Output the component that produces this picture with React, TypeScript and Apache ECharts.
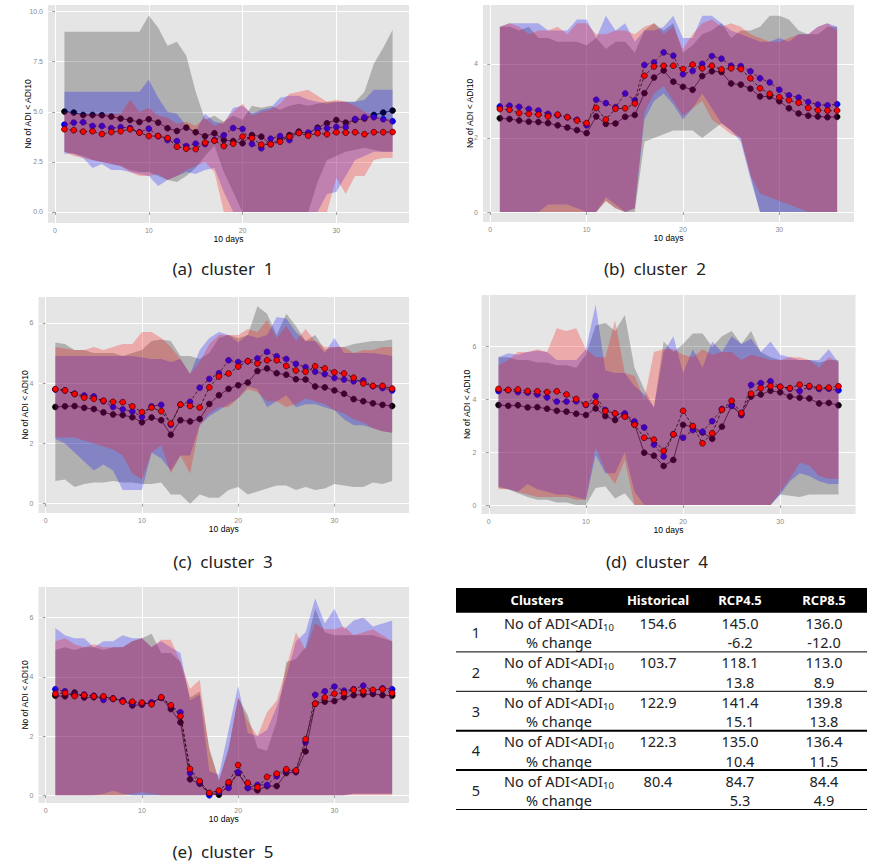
import React, { useEffect, useRef } from "react";
import * as echarts from "echarts";

// ---------- data ----------
const days = [1,2,3,4,5,6,7,8,9,10,11,12,13,14,15,16,17,18,19,20,21,22,23,24,25,26,27,28,29,30,31,32,33,34,35,36];

// cluster 1
const c1Hist = [5.01,4.96,4.84,4.84,4.83,4.76,4.66,4.59,4.49,4.63,4.46,4.18,4.04,4.21,3.98,3.78,3.93,3.59,3.54,3.43,3.84,3.76,3.39,3.63,3.84,4.01,3.93,4.21,4.43,4.59,4.46,4.59,4.66,4.84,4.96,5.06];
const c1R45 = [4.36,4.46,4.48,4.29,4.29,4.18,4.23,4.19,3.98,4.16,3.79,3.59,3.54,3.29,3.41,3.39,3.59,3.83,4.19,4.14,3.39,3.18,3.66,3.79,3.59,3.96,3.96,4.14,4.18,4.24,4.23,4.64,4.73,4.73,4.63,4.53];
const c1R85 = [4.13,4.08,4.01,4.03,3.89,3.99,4.03,4.13,3.96,3.79,3.79,3.69,3.26,3.16,3.14,3.46,3.56,3.29,3.41,3.76,3.68,3.36,3.38,3.51,3.76,3.94,3.81,3.93,3.88,3.98,3.96,3.98,3.88,3.98,3.98,3.99];
const c1HistHi = [9.0,9.0,9.0,9.0,9.0,9.0,9.0,9.0,9.0,9.8,9.2,8.3,8.5,7.8,6.0,4.6,4.8,4.5,4.8,4.6,5.3,5.2,5.3,5.1,5.3,5.4,5.3,5.4,5.5,5.5,5.5,5.5,6.0,7.4,8.2,9.1];
const c1HistLo = [3.0,2.9,2.8,2.6,2.5,2.4,2.3,2.1,2.0,2.0,1.8,1.6,1.5,1.8,2.2,2.8,3.3,2.0,1.0,0,0,0,0,0,0,0,0,1.5,2.6,2.8,3.0,3.1,3.2,3.1,3.0,3.0];
const c1R45Hi = [6.0,6.0,6.0,6.0,6.0,6.0,6.0,6.0,6.0,6.6,5.7,5.0,4.9,4.3,4.0,4.9,4.5,4.4,5.2,5.3,4.9,5.1,5.2,5.7,5.8,5.8,5.6,5.5,5.4,5.5,5.5,5.5,5.6,6.1,6.1,6.1];
const c1R45Lo = [2.9,2.9,2.7,2.2,2.4,2.1,2.1,2.0,1.9,1.8,1.3,1.6,1.8,2.0,1.9,2.1,2.2,1.0,0,0,0,0,0,0,0,0,0,0,0.9,1.0,1.8,2.6,2.8,3.0,3.0,3.0];
const c1R85Hi = [5.0,4.9,4.9,4.9,4.9,4.9,4.9,5.6,5.0,5.2,4.8,4.7,4.4,4.5,4.3,4.7,4.3,4.5,5.0,5.4,4.8,5.0,5.1,5.4,5.9,6.0,6.1,5.8,5.5,5.6,5.5,5.3,5.0,4.8,4.7,4.6];
const c1R85Lo = [3.0,2.8,2.7,2.6,2.5,2.4,2.3,2.0,1.8,1.8,1.9,1.6,1.8,2.1,2.3,2.5,2.0,0,0,0,0,0,0,0,0,0,0,0,0,1.7,0.9,1.8,1.8,2.6,2.7,2.7];

// cluster 2
const c2Hist = [2.53,2.51,2.47,2.44,2.43,2.40,2.34,2.28,2.21,2.13,2.58,2.38,2.39,2.57,2.62,3.21,3.63,3.82,3.52,3.38,3.30,3.67,3.80,3.78,3.47,3.44,3.33,3.12,3.12,2.99,2.80,2.66,2.60,2.58,2.56,2.57];
const c2R45 = [2.85,2.87,2.84,2.78,2.74,2.65,2.61,2.56,2.49,2.34,3.03,2.94,2.83,3.20,3.02,3.97,4.04,4.31,4.22,3.72,3.81,4.00,4.21,4.14,3.95,3.94,3.80,3.61,3.50,3.30,3.15,3.09,2.97,2.90,2.88,2.91];
const c2R85 = [2.78,2.76,2.67,2.65,2.63,2.58,2.63,2.56,2.47,2.40,2.81,2.50,2.79,2.80,2.93,3.68,3.93,3.95,3.95,3.86,3.98,3.88,3.95,3.85,3.88,3.86,3.61,3.34,3.19,3.10,3.02,2.95,2.81,2.75,2.74,2.74];
const c2HistHi = [5.0,5.0,4.9,5.0,4.7,4.7,4.6,4.6,4.6,4.5,4.7,4.4,4.6,4.6,4.3,4.9,5.1,4.9,5.1,4.3,4.5,4.8,4.9,5.1,4.7,4.9,4.9,5.0,5.3,5.3,5.2,4.9,4.8,4.8,5.0,5.0];
const c2HistLo = [0,0,0,0,0,0,0,0,0,0,0,0.3,0.1,0,0,1.9,2.0,2.1,2.2,2.2,2.2,2.0,2.2,2.4,2.2,2.0,1.0,0,0,0,0,0,0,0,0,0];
const c2R45Hi = [5.0,5.1,5.1,5.1,5.1,4.9,4.9,4.9,5.2,5.2,4.7,5.3,4.9,5.1,4.6,4.9,4.9,5.0,5.3,4.7,4.7,5.3,5.3,5.1,4.9,4.8,4.7,4.6,4.6,4.7,4.6,4.8,4.8,5.0,5.1,5.0];
const c2R45Lo = [0,0,0,0,0,0.2,0.2,0.2,0.1,0,0,0.4,0.2,0,0.1,2.5,3.0,3.2,2.9,2.5,2.8,3.2,2.8,2.4,2.2,1.9,0.9,0,0,0,0,0,0,0,0,0];
const c2R85Hi = [5.0,5.1,5.0,4.8,4.9,4.9,5.0,4.8,5.1,5.1,4.8,4.8,4.9,4.9,4.8,5.0,5.1,4.8,5.0,4.4,4.8,5.1,5.2,5.0,5.1,5.0,4.8,4.7,4.6,4.6,4.7,4.8,4.8,5.0,5.1,4.9];
const c2R85Lo = [0,0,0,0,0,0,0,0,0,0,0,0.3,0.1,0,0.1,2.7,3.2,3.4,3.0,2.6,2.8,3.0,2.5,2.3,2.1,2.0,1.0,0.5,0.4,0.3,0.2,0.1,0,0,0,0];

// cluster 3
const c3Hist = [3.21,3.23,3.24,3.18,3.14,3.03,2.96,2.94,2.87,2.70,2.86,2.77,2.29,2.77,2.73,2.81,3.31,3.60,3.81,3.93,4.02,4.40,4.49,4.33,4.28,4.13,4.12,3.89,3.86,3.76,3.65,3.47,3.40,3.33,3.28,3.24];
const c3R45 = [3.79,3.76,3.65,3.59,3.56,3.40,3.21,3.13,3.06,2.88,3.23,3.28,2.62,3.29,3.38,3.85,4.14,4.33,4.76,4.70,4.73,4.82,5.04,4.89,4.80,4.64,4.53,4.38,4.30,4.17,4.12,4.06,4.09,3.90,3.84,3.76];
const c3R85 = [3.80,3.76,3.64,3.52,3.48,3.42,3.38,3.37,3.23,3.04,3.19,3.07,2.66,3.29,3.24,3.19,3.86,4.22,4.32,4.55,4.73,4.65,4.76,4.76,4.57,4.42,4.38,4.56,4.49,4.36,4.32,4.18,3.99,3.91,3.91,3.82];
const c3HistHi = [5.35,5.3,5.1,5.1,5.0,5.0,5.0,4.9,5.0,5.1,5.4,5.45,5.4,4.9,4.9,4.8,5.0,5.5,5.6,5.5,5.6,6.55,6.3,5.6,6.3,5.9,5.4,5.6,5.1,5.2,5.2,5.3,5.35,5.4,5.4,5.45];
const c3HistLo = [0.75,0.8,0.55,0.65,0.7,0.7,0.75,0.7,0.7,0.65,0.65,0.7,0.3,0.3,0.0,0.3,0.2,0.2,0.45,0.55,0.3,0.4,0.5,0.6,0.6,0.45,0.55,0.45,0.5,0.65,0.6,0.55,0.55,0.7,0.65,0.75];
const c3R45Hi = [4.9,4.9,4.9,4.9,4.9,4.9,4.9,4.9,4.9,4.85,4.8,4.8,4.7,4.8,4.3,5.1,5.5,5.7,5.6,5.35,5.6,5.5,5.6,6.2,6.15,5.7,5.4,5.4,5.0,5.5,5.0,5.0,5.0,5.0,4.95,4.9];
const c3R45Lo = [2.15,2.0,1.7,1.4,1.1,1.3,1.1,0.45,0.45,0.45,1.7,1.5,1.1,1.6,1.6,2.6,2.9,3.1,3.3,3.5,3.9,3.8,3.2,3.4,3.6,3.2,3.3,3.3,3.2,3.1,2.8,2.6,2.6,2.5,2.4,2.35];
const c3R85Hi = [5.2,5.15,5.1,5.1,5.2,5.1,5.2,5.3,5.3,5.7,5.7,5.5,5.2,4.8,4.3,4.7,5.3,5.6,5.6,5.6,5.8,5.7,6.1,5.5,5.9,5.4,5.8,5.4,5.2,5.2,5.2,5.0,5.1,5.1,5.2,5.2];
const c3R85Lo = [2.2,2.2,2.2,2.1,2.0,1.9,1.8,1.6,1.0,0.8,1.7,1.95,1.0,1.6,1.0,2.6,3.0,3.2,3.2,3.5,3.8,3.7,3.4,3.4,3.2,3.3,3.5,3.4,3.3,3.1,3.0,2.8,2.7,2.5,2.4,2.35];

// cluster 4
const c4Hist = [3.79,3.76,3.78,3.70,3.71,3.65,3.57,3.54,3.46,3.41,3.66,3.37,3.22,3.45,3.07,1.98,1.87,1.48,1.71,3.04,2.97,2.75,2.51,2.97,3.76,3.41,4.11,4.19,4.33,4.27,4.11,4.07,4.04,3.85,3.87,3.78];
const c4R45 = [4.32,4.36,4.28,4.26,4.19,4.08,3.92,3.92,3.93,3.79,4.13,3.60,3.46,3.47,3.17,2.94,2.29,1.84,2.68,2.55,2.84,2.78,3.18,3.64,3.76,3.45,4.55,4.62,4.69,4.48,4.41,4.32,4.48,4.40,4.41,4.35];
const c4R85 = [4.40,4.36,4.38,4.32,4.31,4.28,4.31,4.19,4.02,3.81,3.89,3.56,3.47,3.35,3.04,2.55,2.48,2.05,2.68,3.57,2.99,2.34,2.72,3.61,3.95,3.49,4.22,4.43,4.51,4.48,4.43,4.56,4.51,4.45,4.45,4.50];
const c4HistHi = [5.6,5.6,5.5,5.5,5.4,5.4,5.3,5.3,5.2,5.7,6.8,6.9,6.6,7.2,5.2,4.4,3.7,6.2,5.8,6.1,6.5,6.5,6.0,6.4,6.6,6.1,6.6,5.8,5.6,5.5,5.5,5.5,5.5,5.4,5.5,5.5];
const c4HistLo = [0.65,0.6,0.45,0.3,0.2,0.2,0.1,0.1,0,0,0.65,0.7,0.25,0.45,0,0,0,0,0,0,0,0,0,0,0,0,0,0,0,0.4,0.35,0.3,0.4,0.4,0.4,0.4];
const c4R45Hi = [5.6,5.75,5.7,5.8,5.85,5.8,5.5,5.5,5.5,5.9,7.6,5.1,5.0,5.0,4.5,4.2,3.7,5.8,6.4,5.0,5.9,5.2,6.2,5.8,6.4,6.1,6.3,5.8,6.2,5.7,5.6,5.5,5.5,5.5,5.9,5.4];
const c4R45Lo = [0.7,0.6,0.5,0.8,0.6,0.5,0.4,0.4,0.3,0.2,1.9,1.2,1.2,2.0,0.5,0,0,0,0,0,0,0,0,0,0,0,0,0,0,0.4,0.9,1.2,1.1,0.9,0.8,0.8];
const c4R85Hi = [5.3,5.5,5.8,5.8,5.9,5.8,6.7,6.6,6.7,5.9,5.6,5.6,7.0,5.0,4.9,4.0,5.8,5.9,5.9,5.7,5.6,5.9,5.7,5.8,5.8,5.5,5.7,5.6,5.5,5.5,5.6,5.6,5.5,5.2,5.6,5.4];
const c4R85Lo = [0.6,0.6,0.5,0.4,0.3,0.3,0.3,0.3,0.2,0.2,2.2,1.3,0.8,1.7,0,0,0,0,0,0,0,0,0,0,0,0,0,0,0,0.5,1.0,1.6,1.5,1.1,1.0,1.0];

// cluster 5
const c5Hist = [3.36,3.34,3.47,3.30,3.31,3.31,3.27,3.20,3.03,3.06,3.13,3.29,2.91,2.46,0.54,0.39,0.06,0.02,0.36,0.75,0.25,0.17,0.31,0.31,0.75,0.78,1.48,3.09,3.16,3.18,3.31,3.38,3.40,3.42,3.38,3.36];
const c5R45 = [3.58,3.51,3.38,3.40,3.36,3.22,3.25,3.20,3.11,3.11,3.13,3.29,3.02,2.80,0.75,0.44,0.0,0.12,0.25,0.78,0.25,0.35,0.35,0.64,0.84,0.82,1.79,3.39,3.51,3.67,3.53,3.58,3.70,3.53,3.61,3.58];
const c5R85 = [3.43,3.45,3.35,3.38,3.34,3.34,3.26,3.16,3.16,3.13,3.07,3.31,3.04,2.67,0.89,0.48,0.08,0.16,0.44,1.02,0.42,0.27,0.62,0.73,0.88,0.84,1.89,3.09,3.30,3.43,3.45,3.56,3.51,3.56,3.58,3.45];
const c5HistHi = [4.9,5.0,4.9,5.0,5.0,4.9,5.0,5.0,5.2,5.3,5.45,4.8,4.8,4.5,3.3,3.5,1.6,0.5,1.6,3.3,2.7,1.6,1.5,2.5,4.5,4.6,5.0,6.3,5.5,5.4,5.4,5.4,5.4,5.4,5.3,5.2];
const c5HistLo = [0,0,0,0,0,0,0,0,0,0,0,0,0,0,0,0,0,0,0,0,0,0,0,0,0,0,0,0,0,0,0,0.05,0.05,0.05,0.05,0.05];
const c5R45Hi = [5.65,5.4,5.3,5.3,5.0,5.2,5.2,5.4,5.3,5.3,5.0,5.2,5.0,4.8,3.2,3.4,0.8,0.7,2.2,3.7,2.1,2.0,2.2,3.0,4.0,5.2,5.5,6.65,5.8,6.3,5.6,5.9,6.0,5.7,5.8,5.9];
const c5R45Lo = [0,0,0,0,0,0.05,0.15,0.05,0,0,0,0,0,0,0,0,0,0,0,0,0,0,0,0,0,0,0,0,0,0,0,0.05,0.05,0.05,0.05,0.05];
const c5R85Hi = [5.2,5.3,5.1,5.0,5.1,5.0,5.0,5.0,5.2,5.3,5.0,5.25,5.25,4.5,3.6,3.9,1.5,0.5,1.5,3.3,2.5,2.0,2.8,3.2,4.3,5.5,4.9,5.8,5.6,5.6,5.7,5.4,5.5,5.6,5.4,5.2];
const c5R85Lo = [0,0,0,0,0,0,0,0,0.05,0.1,0.05,0,0,0,0,0,0,0,0,0,0,0,0,0,0,0,0,0,0,0,0,0,0,0,0,0];

// tick labels
const xTicks = [0, 10, 20, 30];
const yTicksA = [0, 2.5, 5, 7.5, 10];
const yTicksB = [0, 2, 4];
const yTicksC = [0, 2, 4, 6];
const yTicksD = [0, 2, 4, 6];
const yTicksE = [0, 2, 4, 6];

const captions = ["(a)  cluster  1", "(b)  cluster  2", "(c)  cluster  3", "(d)  cluster  4", "(e)  cluster  5"];

// table
const tableHeader = ["Clusters", "Historical", "RCP4.5", "RCP8.5"];
const clusterIds = ["1", "2", "3", "4", "5"];
const histCounts = ["154.6", "103.7", "122.9", "122.3", "80.4"];
const rcp45Counts = ["145.0", "118.1", "141.4", "135.0", "84.7"];
const rcp85Counts = ["136.0", "113.0", "139.8", "136.4", "84.4"];
const rcp45Change = ["-6.2", "13.8", "15.1", "10.4", "5.3"];
const rcp85Change = ["-12.0", "8.9", "13.8", "11.5", "4.9"];

// ---------- layout ----------
const panels = [
  { hist: c1Hist, r45: c1R45, r85: c1R85, hLo: c1HistLo, hHi: c1HistHi, aLo: c1R45Lo, aHi: c1R45Hi, bLo: c1R85Lo, bHi: c1R85Hi,
    grid: { left: 48, top: 5, width: 361, height: 218 }, yMin: -0.55, yMax: 10.33, yTicks: yTicksA, dec: 1, nameGap: 16 },
  { hist: c2Hist, r45: c2R45, r85: c2R85, hLo: c2HistLo, hHi: c2HistHi, aLo: c2R45Lo, aHi: c2R45Hi, bLo: c2R85Lo, bHi: c2R85Hi,
    grid: { left: 483, top: 5, width: 371, height: 217 }, yMin: -0.27, yMax: 5.59, yTicks: yTicksB, dec: 0, nameGap: 8.5 },
  { hist: c3Hist, r45: c3R45, r85: c3R85, hLo: c3HistLo, hHi: c3HistHi, aLo: c3R45Lo, aHi: c3R45Hi, bLo: c3R85Lo, bHi: c3R85Hi,
    grid: { left: 38.5, top: 297, width: 370.5, height: 216 }, yMin: -0.31, yMax: 6.86, yTicks: yTicksC, dec: 0, nameGap: 9 },
  { hist: c4Hist, r45: c4R45, r85: c4R85, hLo: c4HistLo, hHi: c4HistHi, aLo: c4R45Lo, aHi: c4R45Hi, bLo: c4R85Lo, bHi: c4R85Hi,
    grid: { left: 481.5, top: 295, width: 374, height: 219 }, yMin: -0.34, yMax: 7.96, yTicks: yTicksD, dec: 0, nameGap: 10.3 },
  { hist: c5Hist, r45: c5R45, r85: c5R85, hLo: c5HistLo, hHi: c5HistHi, aLo: c5R45Lo, aHi: c5R45Hi, bLo: c5R85Lo, bHi: c5R85Hi,
    grid: { left: 38.5, top: 587, width: 370.5, height: 216 }, yMin: -0.26, yMax: 7.03, yTicks: yTicksE, dec: 0, nameGap: 9 },
];
const captionPos = [[223, 268], [655, 268], [223, 561], [657, 561], [223, 851]];

const AXIS_FONT = "Liberation Sans, Arial, sans-serif";
const TABLE_FONT = "Noto Sans, sans-serif";
const GREY_BAND = "rgba(0,0,0,0.23)";
const BLUE_BAND = "rgba(0,0,255,0.25)";
const RED_BAND = "rgba(255,0,0,0.25)";

// ribbon drawn as one polygon through the axes' scales
function bandSeries(gi: number, lo: number[], hi: number[], color: string, z: number) {
  return {
    type: "custom", xAxisIndex: gi, yAxisIndex: gi, z, silent: true, clip: true,
    data: days.map((d, i) => [d, lo[i], hi[i]]),
    encode: { x: 0, y: [1, 2] },
    renderItem: (params: any, api: any) => {
      if (params.dataIndex !== 0) return null;
      const upper = days.map((d, i) => api.coord([d, hi[i]]));
      const lower = days.map((d, i) => api.coord([d, lo[i]])).reverse();
      return {
        type: "polygon",
        shape: { points: upper.concat(lower) },
        style: { fill: color, stroke: "none" },
      };
    },
  };
}

function lineSeries(gi: number, vals: number[], fill: string, border: string, dashed: boolean, z: number) {
  return {
    type: "line", xAxisIndex: gi, yAxisIndex: gi, z, silent: true,
    data: days.map((d, i) => [d, vals[i]]),
    symbol: "circle", symbolSize: 5.8, showSymbol: true,
    itemStyle: { color: fill, borderColor: border, borderWidth: 0.7 },
    lineStyle: { color: "#000", width: 0.7, type: dashed ? [3, 2] : "solid" },
  };
}

export default function App() {
  const ref = useRef<HTMLDivElement>(null);
  useEffect(() => {
    if (!ref.current) return;
    const chart = echarts.init(ref.current, undefined, { renderer: "svg" });

    const grids = panels.map((p) => ({ ...p.grid, show: true, backgroundColor: "#E5E5E5", borderWidth: 0, containLabel: false }));
    const xAxes = panels.map((p, i) => ({
      gridIndex: i, type: "value", min: -0.75, max: 37.75,
      axisLine: { show: false },
      axisTick: { show: true, length: 3, lineStyle: { color: "#8a8a8a", width: 0.8 }, customValues: xTicks },
      axisLabel: { customValues: xTicks, color: "#8a8a8a", fontSize: 7, margin: 4, fontFamily: AXIS_FONT },
      splitLine: { show: true, lineStyle: { color: "#ffffff", width: 1 } },
      name: "10 days", nameLocation: "middle", nameGap: 11, nameMoveOverlap: false,
      nameTextStyle: { fontSize: 8.5, color: "#000", fontFamily: AXIS_FONT },
    }));
    const yAxes = panels.map((p, i) => ({
      gridIndex: i, type: "value", min: p.yMin, max: p.yMax,
      axisLine: { show: false },
      axisTick: { show: true, length: 3, lineStyle: { color: "#8a8a8a", width: 0.8 }, customValues: p.yTicks },
      axisLabel: {
        customValues: p.yTicks, color: "#8a8a8a", fontSize: 7, margin: 5, fontFamily: AXIS_FONT,
        formatter: (v: number) => v.toFixed(p.dec),
      },
      splitLine: { show: true, lineStyle: { color: "#ffffff", width: 1 } },
      name: "No of ADI < ADI10", nameLocation: "middle", nameGap: p.nameGap, nameMoveOverlap: false,
      nameTextStyle: { fontSize: 8.5, color: "#000", fontFamily: AXIS_FONT },
    }));

    const series: any[] = [];
    panels.forEach((p, i) => {
      series.push(bandSeries(i, p.hLo, p.hHi, GREY_BAND, 3));
      series.push(lineSeries(i, p.hist, "#000000", "#000000", false, 4));
      series.push(bandSeries(i, p.aLo, p.aHi, BLUE_BAND, 5));
      series.push(lineSeries(i, p.r45, "#0000FF", "#0000C0", true, 6));
      series.push(bandSeries(i, p.bLo, p.bHi, RED_BAND, 7));
      series.push(lineSeries(i, p.r85, "#FF0000", "#3a0000", true, 8));
    });

    // captions + table graphics
    const g: any[] = [];
    captions.forEach((c, i) => {
      g.push({
        type: "text", x: captionPos[i][0], y: captionPos[i][1], silent: true,
        style: { text: c, fill: "#222", fontSize: 17, fontFamily: TABLE_FONT, align: "center", verticalAlign: "middle" },
      });
    });
    const tLeft = 456, tRight = 867, headTop = 588, headH = 24.7;
    const colX = [537, 658, 740, 824];
    g.push({ type: "rect", shape: { x: tLeft, y: headTop, width: tRight - tLeft, height: headH }, style: { fill: "#000" }, silent: true });
    tableHeader.forEach((h, k) => {
      g.push({
        type: "text", x: colX[k], y: headTop + headH / 2, silent: true,
        style: { text: h, fill: "#fff", fontSize: 13, fontWeight: "bold", fontFamily: TABLE_FONT, align: "center", verticalAlign: "middle" },
      });
    });
    const rowTop0 = headTop + headH, rowH = 39.4;
    const sepWidths = [1, 1, 2, 2, 1];
    const txt = (s: string, x: number, y: number, align: string, size = 14.5) => ({
      type: "text", x, y, silent: true,
      style: { text: s, fill: "#222", fontSize: size, fontFamily: TABLE_FONT, align, verticalAlign: "middle" },
    });
    clusterIds.forEach((cid, k) => {
      const top = rowTop0 + rowH * k;
      const l1 = top + 10.3, l2 = top + 29.7;
      g.push(txt(cid, 476, top + 19.5, "center"));
      g.push(txt("No of ADI<ADI", 603, l1, "right"));
      g.push(txt("10", 603, l1 + 4.5, "left", 9.5));
      g.push(txt("% change", 526, l2, "left"));
      g.push(txt(histCounts[k], colX[1], l1, "center"));
      g.push(txt(rcp45Counts[k], colX[2], l1, "center"));
      g.push(txt(rcp85Counts[k], colX[3], l1, "center"));
      g.push(txt(rcp45Change[k], colX[2], l2, "center"));
      g.push(txt(rcp85Change[k], colX[3], l2, "center"));
      const sy = top + 39.2;
      g.push({ type: "line", silent: true, shape: { x1: tLeft, y1: sy, x2: tRight, y2: sy }, style: { stroke: "#000", lineWidth: sepWidths[k] } });
    });

    chart.setOption({
      animation: false,
      grid: grids,
      xAxis: xAxes,
      yAxis: yAxes,
      series,
      graphic: g,
    });
    return () => chart.dispose();
  }, []);
  return <div ref={ref} style={{ position: "absolute", left: 0, top: 0, width: 874, height: 864, background: "#fff" }} />;
}
